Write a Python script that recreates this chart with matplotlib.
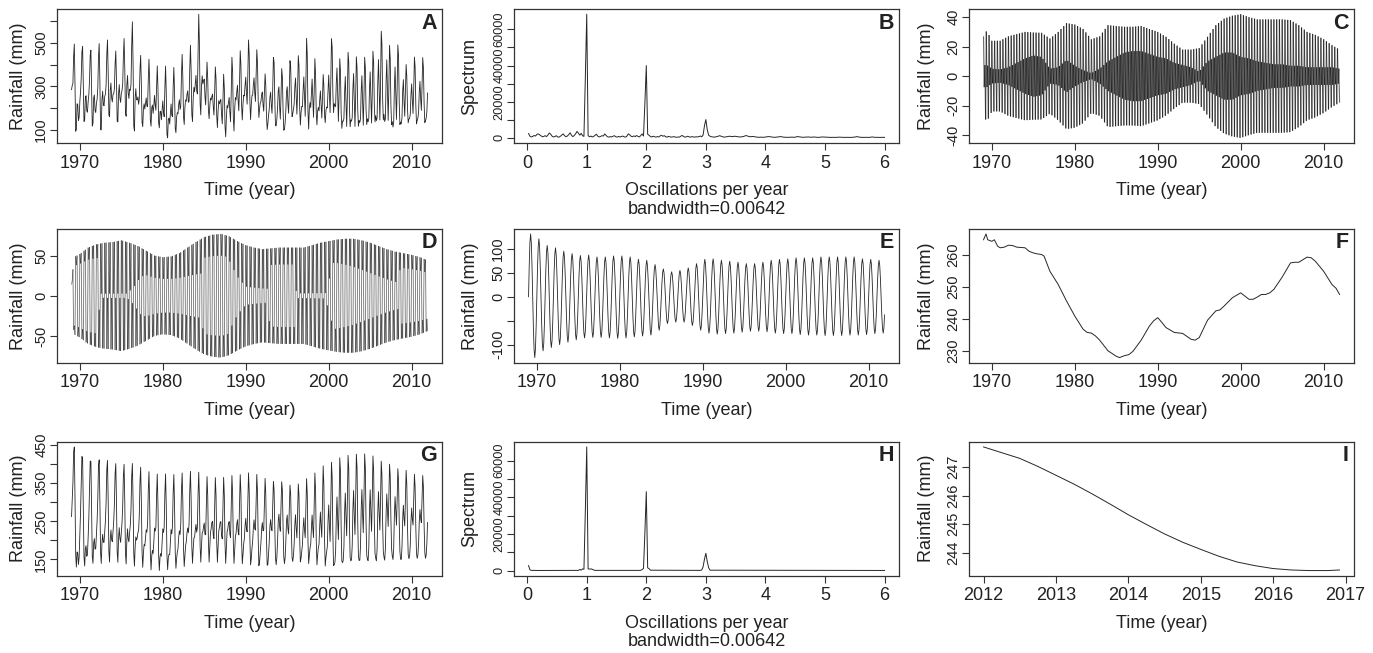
import numpy as np
import matplotlib
matplotlib.use('Agg')
import matplotlib.pyplot as plt
from matplotlib.collections import LineCollection

plt.rcParams['font.family'] = ['Liberation Sans', 'DejaVu Sans']

# ---------------- data ----------------
years = list(range(1969, 2012))

# Panel A: annual maximum / minimum of observed monthly rainfall (mm)
A_max = [495, 484, 463, 500, 516, 452, 535, 610, 411, 427, 387, 395, 387, 460, 492,
         658, 363, 395, 347, 452, 468, 524, 460, 339, 455, 368, 427, 440, 532, 403,
         343, 556, 403, 468, 430, 435, 468, 573, 476, 497, 379, 448, 432]
A_min = [92, 137, 116, 92, 161, 132, 169, 92, 113, 116, 113, 60, 81, 121, 132,
         169, 153, 113, 65, 89, 145, 145, 161, 100, 121, 89, 161, 121, 100, 121,
         129, 185, 105, 113, 113, 121, 132, 145, 113, 121, 132, 126, 132]

# Panel G: annual maximum / minimum of the reconstructed series (mm)
G_max = [445, 415, 408, 410, 410, 400, 400, 402, 391, 378, 373, 375, 373, 378, 380,
         378, 366, 365, 365, 371, 373, 378, 373, 362, 356, 354, 343, 347, 362, 378,
         398, 408, 419, 424, 427, 427, 421, 406, 400, 387, 382, 373, 371]
G_min = [130, 132, 139, 139, 143, 143, 139, 133, 130, 123, 121, 123, 126, 130, 139,
         143, 143, 143, 140, 140, 139, 136, 134, 134, 136, 139, 145, 143, 139, 136,
         134, 133, 140, 146, 147, 147, 146, 147, 152, 150, 152, 153, 153]

# Panel C: outer / inner (dark core) envelope of the 3-per-year component (mm)
C_t = [1969.0, 1969.4, 1970, 1971, 1972, 1973, 1974, 1975, 1976, 1977, 1978, 1979, 1980,
       1981, 1982, 1983, 1984, 1985, 1986, 1987, 1988, 1989, 1990, 1991, 1992, 1993,
       1994, 1995, 1996, 1997, 1998, 1999, 2000, 2001, 2002, 2003, 2004, 2005, 2006,
       2007, 2008, 2009, 2010, 2011, 2011.92]
C_outer = [27, 31, 24, 24, 27, 28.5, 30, 29.6, 29.4, 25.5, 30, 36, 35, 32, 25, 27, 34.6,
           34, 33.5, 33.5, 34, 32, 30, 26.7, 22, 18, 18, 19, 26.7, 34.6, 39, 41, 42, 40,
           38.5, 38.5, 38.5, 38.5, 38, 34.6, 30, 28, 25, 21, 18]
C_inner = [7.5, 7.5, 5, 4.5, 6, 9, 12, 14, 13, 5, 6, 11, 7, 4, 2, 5, 10, 13, 16, 17, 17,
           15, 13, 12, 9, 7.5, 6, 3, 10, 13, 16, 16, 13, 12, 10, 9, 8, 8, 7, 7, 6, 6, 6,
           6, 5]

# Panel D: envelope of the 2-per-year component (mm) and inner-band ratio
D_t = [1969.0, 1969.3] + list(range(1970, 2012)) + [2011.92]
D_env = [14, 48, 52, 60, 64, 66, 67, 69, 66, 62, 56, 50, 48, 49, 53, 60, 67, 73, 76, 77,
         74, 68, 63, 60, 58, 59, 60, 60, 60, 60, 63, 66, 68, 70, 71, 71, 69, 66, 62, 58,
         55, 53, 51, 48, 44]
D_r_t = [1969.0, 1972.2, 1972.4, 1975.7, 1976.5, 1977.4, 1978.0, 1984.7, 1984.9, 1987.8,
         1989.0, 1990.0, 1992.6, 1992.9, 1995.9, 1996.1, 1999.6, 2000.6, 2005.0, 2008.5,
         2008.6, 2011.92]
D_r = [0.78, 0.73, 0.04, 0.04, 0.17, 0.40, 0.46, 0.39, 0.65, 0.65, 0.35, 0.18, 0.15,
       0.65, 0.65, 0.05, 0.05, 0.60, 0.43, 0.30, 0.65, 0.65]
D_phase_t = [1969, 1971.5, 1972.5, 1975.5, 1977.5, 1978.5, 1984.5, 1985.5, 1988, 1990,
             1992.5, 1993.5, 1996, 1997, 1999.5, 2000.5, 2005, 2008.5, 2009, 2011.92]
D_phase = [-105, -105, -120, -120, -140, -150, -150, -165, -165, -175, -175, -195,
           -195, -180, -180, -200, -205, -210, -195, -195]

# Panel E: upper / lower envelope of the annual component (mm)
E_top = [131, 121, 107, 102, 95, 90, 86, 87, 83, 83, 85, 85, 83, 78, 76, 67, 58, 52, 55,
         60, 69, 78, 79, 76, 74, 72, 69, 69, 72, 76, 78, 79, 81, 81, 81, 83, 83, 83, 83,
         83, 79, 78, 76]
E_bot = [127, 113, 106, 100, 95, 90, 86, 85, 85, 86, 87, 86, 84, 82, 80, 70, 56, 53, 53,
         60, 70, 76, 78, 77, 76, 74, 72, 72, 73, 76, 77, 77, 79, 80, 80, 81, 81, 81, 80,
         80, 79, 77, 76]

# Panel F: trend (mm)
F_t = [1969.0, 1969.3, 1969.5, 1970.0, 1970.3, 1970.7, 1971.0, 1971.5, 1972.0, 1972.5,
       1973.0, 1974.0, 1974.5, 1975.0, 1975.5, 1976.0, 1976.3, 1977.0, 1978.0, 1979.0,
       1980.0, 1981.0, 1981.5, 1982.0, 1982.5, 1983.0, 1984.0, 1985.0, 1985.4, 1986.0,
       1986.5, 1987.0, 1988.0, 1989.0, 1989.5, 1990.0, 1990.5, 1991.0, 1992.0, 1993.0,
       1994.0, 1994.5, 1995.0, 1996.0, 1997.0, 1997.5, 1998.0, 1999.0, 2000.0, 2000.5,
       2001.0, 2001.5, 2002.0, 2002.5, 2003.0, 2003.5, 2004.0, 2005.0, 2006.0, 2006.5,
       2007.0, 2008.0, 2008.5, 2009.0, 2010.0, 2011.0, 2011.5, 2011.92]
F_v = [264.6, 266.4, 264.6, 264.1, 264.6, 262.6, 262.1, 262.3, 262.9, 262.8, 262.3, 262.1,
       261.0, 260.5, 260.2, 260.0, 259.5, 254.8, 250.7, 245.6, 240.9, 236.8, 235.8, 235.6,
       234.7, 233.4, 230.1, 228.4, 228.0, 228.6, 228.9, 229.9, 233.4, 237.8, 239.4, 240.4,
       238.9, 237.3, 235.8, 235.5, 233.7, 233.4, 234.2, 239.6, 242.5, 242.8, 244.0, 246.6,
       248.1, 247.1, 246.1, 246.1, 246.8, 247.6, 247.6, 248.1, 249.2, 253.0, 257.4, 257.6,
       257.6, 259.2, 259.0, 257.9, 254.8, 250.7, 249.5, 247.6]

# Panel I: forecast (mm)
I_t = [2012.0, 2012.25, 2012.5, 2012.75, 2013.0, 2013.25, 2013.5, 2013.75, 2014.0,
       2014.25, 2014.5, 2014.75, 2015.0, 2015.25, 2015.5, 2015.75, 2016.0, 2016.25,
       2016.5, 2016.75, 2016.917]
I_v = [247.70, 247.50, 247.30, 247.02, 246.71, 246.40, 246.06, 245.70, 245.33, 244.99,
       244.66, 244.37, 244.12, 243.88, 243.68, 243.55, 243.45, 243.40, 243.38, 243.38,
       243.40]

# Panel B: spectrum of observed series
B_freq = [0.023, 0.047, 0.070, 0.093, 0.116, 0.140, 0.163, 0.186, 0.209, 0.233, 0.256,
          0.279, 0.302, 0.326, 0.349, 0.372, 0.395, 0.419, 0.442, 0.465, 0.488, 0.512,
          0.535, 0.558, 0.581, 0.605, 0.628, 0.651, 0.674, 0.698, 0.721, 0.744, 0.767,
          0.791, 0.814, 0.837, 0.860, 0.884, 0.907, 0.930, 0.953, 0.977, 1.000, 1.023,
          1.047, 1.070, 1.093, 1.116, 1.140, 1.163, 1.186, 1.209, 1.233, 1.256, 1.279,
          1.302, 1.326, 1.349, 1.372, 1.395, 1.419, 1.442, 1.465, 1.488, 1.512, 1.535,
          1.558, 1.581, 1.605, 1.628, 1.651, 1.674, 1.698, 1.721, 1.744, 1.767, 1.791,
          1.814, 1.837, 1.860, 1.884, 1.907, 1.930, 1.953, 1.977, 2.000, 2.023, 2.047,
          2.070, 2.093, 2.116, 2.140, 2.163, 2.186, 2.209, 2.233, 2.256, 2.279, 2.302,
          2.326, 2.349, 2.372, 2.395, 2.419, 2.442, 2.465, 2.488, 2.512, 2.535, 2.558,
          2.581, 2.605, 2.628, 2.651, 2.674, 2.698, 2.721, 2.744, 2.767, 2.791, 2.814,
          2.837, 2.860, 2.884, 2.907, 2.930, 2.953, 2.977, 3.000, 3.023, 3.047, 3.070,
          3.093, 3.140, 3.186, 3.233, 3.256, 3.302, 3.349, 3.395, 3.442, 3.488, 3.535,
          3.581, 3.628, 3.674, 3.698, 3.744, 3.791, 3.837, 3.884, 3.930, 3.977, 4.023,
          4.070, 4.116, 4.163, 4.209, 4.256, 4.302, 4.349, 4.395, 4.442, 4.488, 4.535,
          4.581, 4.628, 4.674, 4.721, 4.767, 4.814, 4.860, 4.907, 4.953, 5.000, 5.047,
          5.093, 5.140, 5.186, 5.233, 5.279, 5.326, 5.372, 5.419, 5.465, 5.512, 5.535,
          5.558, 5.605, 5.651, 5.698, 5.744, 5.791, 5.837, 5.884, 5.930, 5.977, 6.000]
B_spec = [2400, 900, 500, 800, 1300, 1000, 1900, 2200, 1700, 1100, 600,
          800, 1200, 700, 1600, 2700, 2000, 900, 500, 700, 1200, 500,
          400, 900, 1500, 2200, 1200, 600, 1000, 1800, 2800, 1400, 700,
          1300, 2300, 3600, 2600, 1500, 2500, 1200, 800, 34000, 68400, 1200,
          600, 1000, 500, 800, 1400, 2000, 900, 500, 800, 1200, 1000,
          2200, 1300, 600, 400, 700, 500, 900, 1200, 600, 400, 800,
          500, 700, 1000, 600, 400, 900, 2200, 1700, 900, 600, 1100,
          700, 1300, 800, 500, 1300, 2200, 1000, 19800, 40000, 2000, 1400,
          700, 500, 900, 600, 400, 700, 500, 1100, 1400, 900, 1200,
          600, 400, 800, 600, 400, 500, 700, 400, 300, 500, 400,
          1000, 1300, 700, 400, 600, 900, 500, 400, 700, 500, 400,
          600, 500, 700, 1000, 600, 1500, 6800, 10100, 4500, 1400, 900,
          600, 400, 700, 1200, 900, 400, 600, 900, 700, 900, 600,
          500, 700, 1300, 1000, 600, 800, 500, 300, 400, 300, 600,
          700, 400, 300, 500, 700, 400, 300, 300, 400, 300, 700,
          500, 300, 400, 500, 300, 500, 300, 300, 500, 400, 300,
          250, 300, 250, 400, 300, 250, 300, 250, 300, 500, 700,
          500, 300, 250, 300, 250, 500, 300, 250, 250, 300, 250]

# Panel H: spectrum of reconstructed series
H_freq = [0.023, 0.047, 0.070, 0.200, 0.860, 0.884, 0.907, 0.930, 0.953, 0.977, 1.000,
          1.023, 1.047, 1.070, 1.093, 1.116, 1.140, 1.900, 1.930, 1.953, 1.977, 2.000,
          2.023, 2.047, 2.070, 2.900, 2.930, 2.953, 2.977, 3.000, 3.023, 3.047, 3.070,
          6.000]
H_spec = [2700, 400, 100, 50, 100, 600, 200, 900, 700, 33300, 67400,
          900, 800, 900, 700, 300, 100, 100, 500, 1200, 21300, 43000,
          1500, 1000, 200, 100, 300, 2000, 6300, 9400, 5000, 1500, 200,
          50]

# ---------------- series assembly ----------------
n = 516
months = 1969 + np.arange(n) / 12.0
ph1 = 2 * np.pi * (months - 1969)
mid = np.array(years) + 0.5
k = np.arange(n)

# annual component
s = np.sin(ph1)
env_top = np.interp(months, np.array(years) + 0.25, E_top)
env_bot = np.interp(months, np.array(years) + 0.75, E_bot)
E = np.where(s >= 0, env_top * s, env_bot * s)

# 2-per-year component: 6-month sample pattern [1, r, 1, -1, -r, -1] x envelope
envD = np.interp(months, D_t, D_env)
rD = np.interp(months, D_r_t, D_r)
sgnD = np.array([1, 1, 1, -1, -1, -1])[k % 6]
midD = np.array([0, 1, 0, 0, 1, 0])[k % 6]
D = envD * sgnD * np.where(midD == 1, rD, 1.0)

# 3-per-year component: 4-month sample pattern [O, -I, I, -O]
O = np.interp(months, C_t, C_outer)
Iv = np.interp(months, C_t, C_inner)
C = np.choose(k % 4, [O, -Iv, Iv, -O])

# smooth versions used as the within-year shape for A and G
D_s = envD * np.sin(2 * ph1 + np.deg2rad(np.interp(months, D_phase_t, D_phase)))
C_s = np.hypot(O, Iv) * np.sin(3 * ph1 + np.pi / 2 - np.arctan2(Iv, O))


def fit_annual(osc, amax, amin):
    """scale an oscillation so that each year spans the read annual max / min"""
    gains, cents = [], []
    for i in range(len(years)):
        seg = osc[12 * i:12 * i + 12]
        g = (amax[i] - amin[i]) / (seg.max() - seg.min())
        gains.append(g)
        cents.append((amax[i] + amin[i]) / 2 - g * (seg.max() + seg.min()) / 2)
    return np.interp(months, mid, cents) + np.interp(months, mid, gains) * osc


G = fit_annual(C_s + D_s + E, G_max, G_min)
A = fit_annual(E + 1.6 * D_s + 2.2 * C_s, A_max, A_min)

# ---------------- figure ----------------
W, H = 1373, 653
fig = plt.figure(figsize=(W / 100, H / 100), dpi=100)
col_left = [57.3, 514.3, 969.3]
row_top = [9.3, 229.0, 442.0]
aw, ah = 384.5, 133.5
LC = '#262626'
TC = '#222222'


def make_ax(r, c):
    return fig.add_axes([col_left[c] / W, 1 - (row_top[r] + ah) / H, aw / W, ah / H])


def rpad(lo, hi):
    d = (hi - lo) * 0.04
    return lo - d, hi + d


def seg_plot(ax, x, y, lw, alpha):
    """draw a dense series segment by segment so that overlapping strokes darken"""
    pts = np.column_stack([x, y])
    segs = np.stack([pts[:-1], pts[1:]], axis=1)
    ax.add_collection(LineCollection(segs, colors='black', linewidths=lw, alpha=alpha))


def style(ax, x, y, xticks, yticks, ylabels, letter, xlabel, ylabel, ylx, sub=None,
          ysize=10.5):
    ax.set_xlim(*rpad(min(x), max(x)))
    ax.set_ylim(*rpad(min(y), max(y)))
    ax.set_xticks(xticks)
    ax.set_xticklabels([str(v) for v in xticks])
    ax.set_yticks(yticks)
    ax.set_yticklabels(ylabels, rotation=90, va='center')
    ax.tick_params(direction='out', length=5, width=0.8, colors='#333333',
                   labelcolor=TC)
    ax.tick_params(axis='x', pad=3.5, labelsize=13)
    ax.tick_params(axis='y', pad=1.5, labelsize=ysize)
    for sp in ax.spines.values():
        sp.set_color('#333333')
        sp.set_linewidth(0.9)
    ax.set_xlabel(xlabel, fontsize=13, color=TC, va='center')
    ax.xaxis.set_label_coords(0.5, -0.358)
    ax.set_ylabel(ylabel, fontsize=13, color=TC, va='center')
    ax.yaxis.set_label_coords(ylx, 0.5)
    if sub:
        ax.text(0.5, -0.497, sub, transform=ax.transAxes, ha='center', va='center',
                fontsize=13, color=TC)
    ax.text(0.987, 0.975, letter, transform=ax.transAxes, ha='right', va='top',
            fontsize=15.5, fontweight='bold', color=TC)


ylx = [-0.102, -0.115, -0.112]
yr_ticks = [1970, 1980, 1990, 2000, 2010]
lw_osc = 0.6
lw = 0.7

# A
ax = make_ax(0, 0)
ax.plot(months, A, color=LC, lw=lw_osc)
style(ax, months, A, yr_ticks, [100, 200, 300, 400, 500, 600],
      ['100', '', '300', '', '500', ''], 'A', 'Time (year)', 'Rainfall (mm)', ylx[0])

# B
ax = make_ax(0, 1)
ax.plot(B_freq, B_spec, color=LC, lw=lw)
style(ax, B_freq, [0] + B_spec, [0, 1, 2, 3, 4, 5, 6],
      [0, 10000, 20000, 30000, 40000, 50000, 60000],
      ['0', '', '20000', '', '40000', '', '60000'], 'B',
      'Oscillations per year', 'Spectrum', ylx[1], sub='bandwidth=0.00642', ysize=9.2)

# C
ax = make_ax(0, 2)
seg_plot(ax, months, C, 0.8, 0.6)
style(ax, months, C, yr_ticks, [-40, -20, 0, 20, 40], ['-40', '-20', '0', '20', '40'],
      'C', 'Time (year)', 'Rainfall (mm)', ylx[2])

# D
ax = make_ax(1, 0)
seg_plot(ax, months, D, 0.6, 0.55)
style(ax, months, np.r_[D, -D], yr_ticks, [-50, 0, 50], ['-50', '0', '50'],
      'D', 'Time (year)', 'Rainfall (mm)', ylx[0])

# E
ax = make_ax(1, 1)
ax.plot(months, E, color=LC, lw=lw_osc)
style(ax, months, E, yr_ticks, [-100, -50, 0, 50, 100], ['-100', '', '0', '50', '100'],
      'E', 'Time (year)', 'Rainfall (mm)', ylx[1])

# F
ax = make_ax(1, 2)
ax.plot(F_t, F_v, color=LC, lw=lw)
style(ax, months, F_v, yr_ticks, [230, 240, 250, 260], ['230', '240', '250', '260'],
      'F', 'Time (year)', 'Rainfall (mm)', ylx[2])

# G
ax = make_ax(2, 0)
ax.plot(months, G, color=LC, lw=lw_osc)
style(ax, months, G, yr_ticks, [150, 200, 250, 300, 350, 400, 450],
      ['150', '', '250', '', '350', '', '450'], 'G', 'Time (year)', 'Rainfall (mm)', ylx[0])

# H
ax = make_ax(2, 1)
ax.plot(H_freq, H_spec, color=LC, lw=lw)
style(ax, H_freq, [0] + H_spec, [0, 1, 2, 3, 4, 5, 6],
      [0, 10000, 20000, 30000, 40000, 50000, 60000],
      ['0', '', '20000', '', '40000', '', '60000'], 'H',
      'Oscillations per year', 'Spectrum', ylx[1], sub='bandwidth=0.00642', ysize=9.2)

# I
ax = make_ax(2, 2)
ax.plot(I_t, I_v, color=LC, lw=lw)
style(ax, I_t, I_v, [2012, 2013, 2014, 2015, 2016, 2017], [244, 245, 246, 247],
      ['244', '245', '246', '247'], 'I', 'Time (year)', 'Rainfall (mm)', ylx[2])

fig.savefig('out.png', dpi=100)
